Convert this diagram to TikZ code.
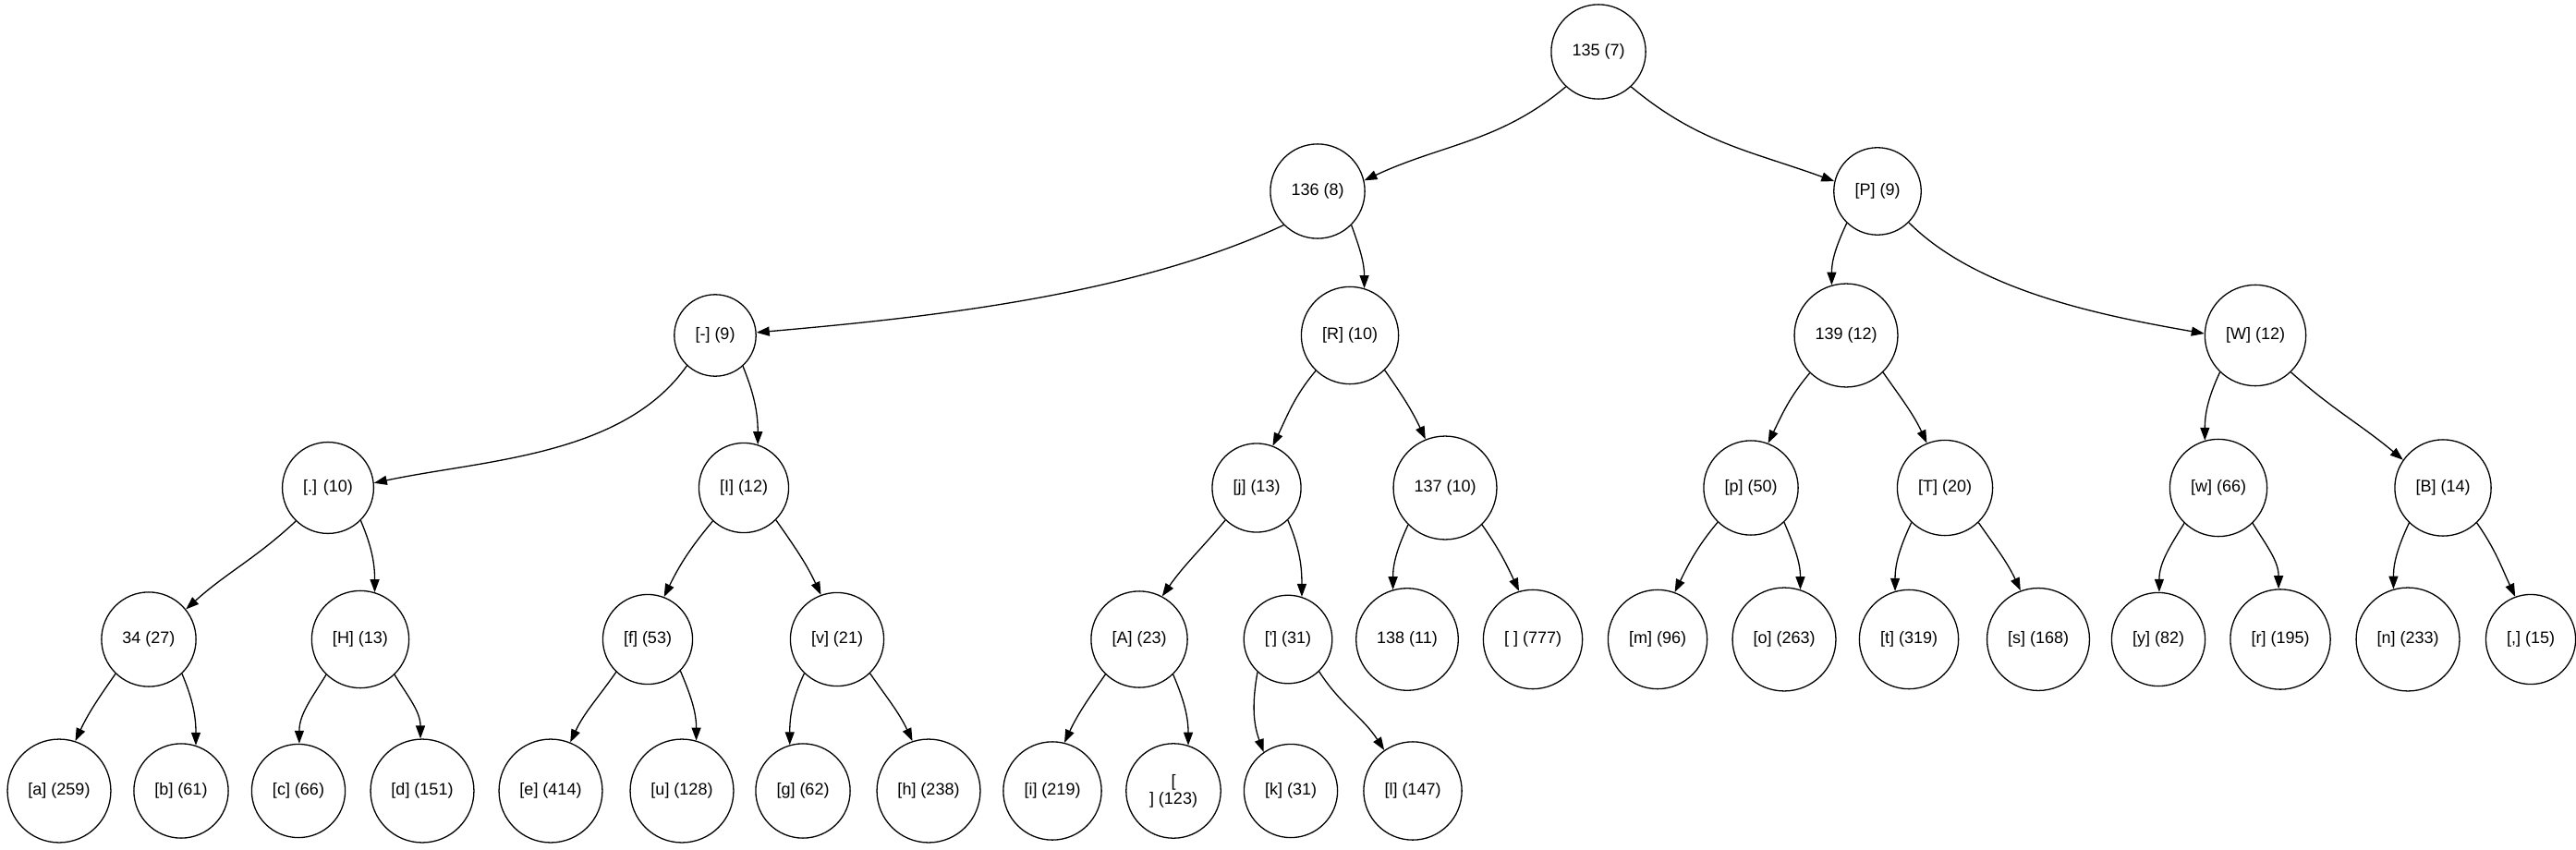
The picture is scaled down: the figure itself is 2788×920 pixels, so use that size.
\documentclass[tikz,border=0pt]{standalone}
\usepackage{fontspec}
\setmainfont{Liberation Sans}
\usetikzlibrary{arrows.meta}

\tikzstyle{huff} = [circle, draw, line width=0.65pt, font=\fontsize{9}{9.5}\selectfont, inner xsep=11pt, inner ysep=0pt]
\tikzstyle{link} = [-{Triangle[length=7pt,width=5pt]}, line width=0.65pt]

\begin{document}
\begin{tikzpicture}[x=0.5pt, y=0.5pt]
\useasboundingbox (0,0) rectangle (2788,-920);
% rank 0 and 1
\node [huff] (n135) at (1730,-56) {135 (7)};
\node [huff] (n136) at (1426,-207) {136 (8)};
\node [huff] (nP) at (2032,-207) {[P] (9)};
% rank 2
\node [huff] (nDash) at (774,-363) {[-] (9)};
\node [huff] (nR) at (1461,-363) {[R] (10)};
\node [huff] (n139) at (1998,-363) {139 (12)};
\node [huff] (nW) at (2441,-363) {[W] (12)};
% rank 3
\node [huff] (nDot) at (355,-528) {[.] (10)};
\node [huff] (nI) at (805,-528) {[I] (12)};
\node [huff] (nj) at (1360,-528) {[j] (13)};
\node [huff] (n137) at (1564,-528) {137 (10)};
\node [huff] (np) at (1895,-528) {[p] (50)};
\node [huff] (nT) at (2105,-528) {[T] (20)};
\node [huff] (nw) at (2401,-528) {[w] (66)};
\node [huff] (nB) at (2644,-528) {[B] (14)};
% rank 4
\node [huff] (n34) at (161,-692) {34 (27)};
\node [huff] (nH) at (390,-692) {[H] (13)};
\node [huff] (nf) at (701,-692) {[f] (53)};
\node [huff] (nv) at (906,-692) {[v] (21)};
\node [huff] (nA) at (1233,-692) {[A] (23)};
\node [huff] (nQuote) at (1394,-692) {[\textquotesingle] (31)};
\node [huff] (n138) at (1523,-692) {138 (11)};
\node [huff] (nSpace) at (1659,-692) {[ ] (777)};
\node [huff] (nm) at (1794,-692) {[m] (96)};
\node [huff] (no) at (1931,-692) {[o] (263)};
\node [huff] (nt) at (2066,-692) {[t] (319)};
\node [huff] (ns) at (2206,-692) {[s] (168)};
\node [huff] (ny) at (2336,-692) {[y] (82)};
\node [huff] (nr) at (2468,-692) {[r] (195)};
\node [huff] (nn) at (2606,-692) {[n] (233)};
\node [huff] (nComma) at (2739,-692) {[,] (15)};
% rank 5
\node [huff] (na) at (64,-856) {[a] (259)};
\node [huff] (nb) at (196,-856) {[b] (61)};
\node [huff] (nc) at (323,-856) {[c] (66)};
\node [huff] (nd) at (457,-856) {[d] (151)};
\node [huff] (ne) at (596,-856) {[e] (414)};
\node [huff] (nu) at (738,-856) {[u] (128)};
\node [huff] (ng) at (869,-856) {[g] (62)};
\node [huff] (nh) at (1005,-856) {[h] (238)};
\node [huff] (ni) at (1139,-856) {[i] (219)};
\node [huff, align=center] (nNL) at (1270,-856) {[\\] (123)};
\node [huff] (nk) at (1397,-856) {[k] (31)};
\node [huff] (nl) at (1529,-856) {[l] (147)};

% edges
\draw [link] (n135.-133) to [out=-140, in=25] (n136.13);
\draw [link] (n135.-47) to [out=-40, in=160] (nP.167);
\draw [link] (n136.-135) to [out=-155, in=5, looseness=0.8] (nDash.4);
\draw [link] (n136.-45) to [out=-70, in=90] (nR.73);
\draw [link] (nP.-134) to [out=-115, in=90] (n139.106);
\draw [link] (nP.-45) to [out=-45, in=170, looseness=0.8] (nW.178);
\draw [link] (nDash.-133) to [out=-125, in=12, looseness=0.85] (nDot.6);
\draw [link] (nDash.-48) to [out=-68, in=90] (nI.72);
\draw [link] (nR.-134) to [out=-130, in=64] (nj.69);
\draw [link] (nR.-45) to [out=-55, in=115] (n137.112);
\draw [link] (n139.-134) to [out=-130, in=64] (np.69);
\draw [link] (n139.-45) to [out=-55, in=115] (nT.112);
\draw [link] (nW.-134) to [out=-115, in=90] (nw.106);
\draw [link] (nW.-46) to [out=-42, in=140] (nB.145);
\draw [link] (nDot.-134) to [out=-137, in=42] (n34.39);
\draw [link] (nDot.-45) to [out=-67, in=90] (nH.73);
\draw [link] (nI.-133) to [out=-130, in=64] (nf.69);
\draw [link] (nI.-45) to [out=-55, in=115] (nv.110);
\draw [link] (nj.-134) to [out=-130, in=55] (nA.62);
\draw [link] (nj.-46) to [out=-67, in=90] (nQuote.72);
\draw [link] (n137.-135) to [out=-115, in=90] (n138.106);
\draw [link] (n137.-45) to [out=-55, in=115] (nSpace.106);
\draw [link] (np.-134) to [out=-130, in=64] (nm.70);
\draw [link] (np.-46) to [out=-67, in=90] (no.72);
\draw [link] (nT.-134) to [out=-115, in=90] (nt.106);
\draw [link] (nT.-46) to [out=-55, in=115] (ns.110);
\draw [link] (nw.-134) to [out=-122, in=90] (ny.89);
\draw [link] (nw.-46) to [out=-58, in=90] (nr.92);
\draw [link] (nB.-134) to [out=-115, in=90] (nn.106);
\draw [link] (nB.-46) to [out=-55, in=115] (nComma.110);
\draw [link] (n34.-134) to [out=-125, in=65] (na.72);
\draw [link] (n34.-46) to [out=-67, in=90] (nb.72);
\draw [link] (nH.-134) to [out=-122, in=90] (nc.89);
\draw [link] (nH.-46) to [out=-58, in=90] (nd.92);
\draw [link] (nf.-134) to [out=-125, in=65] (ne.68);
\draw [link] (nf.-44) to [out=-67, in=90] (nu.74);
\draw [link] (nv.-134) to [out=-115, in=90] (ng.106);
\draw [link] (nv.-46) to [out=-55, in=115] (nh.108);
\draw [link] (nA.-134) to [out=-125, in=65] (ni.76);
\draw [link] (nA.-46) to [out=-67, in=90] (nNL.72);
\draw [link] (nQuote.-133) to [out=-100, in=110] (nk.125);
\draw [link] (nQuote.-46) to [out=-57, in=123] (nl.125);
\end{tikzpicture}
\end{document}
